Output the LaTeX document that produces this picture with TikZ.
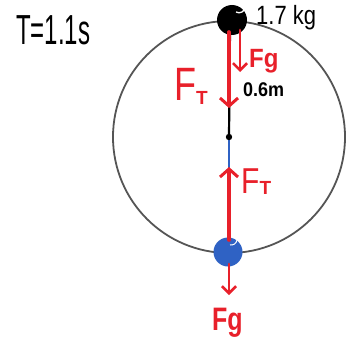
\documentclass[tikz,border=0pt]{standalone}
\usepackage{fontspec}
\setmainfont{Liberation Sans}
\usetikzlibrary{arrows.meta}
\definecolor{fred}{HTML}{E8202A}
\definecolor{fblue}{HTML}{2F62C4}
\definecolor{orbit}{HTML}{555555}
\newcommand{\tall}[2]{\scalebox{1}[#1]{#2}}
\begin{document}
\begin{tikzpicture}[x=1pt,y=-1pt,
  force/.style={fred,line width=3.6pt,line cap=round,-{Straight Barb[length=8pt,width=18pt,line width=3pt]}},
  thinforce/.style={fred,line width=2.8pt,line cap=round,-{Straight Barb[length=7pt,width=14pt,line width=2.6pt]}},
  flabel/.style={fred,inner sep=0pt},
  blabel/.style={black,inner sep=0pt}]
\useasboundingbox (0,0) rectangle (350,337);
\coordinate (c) at (229,137);
\draw[orbit,line width=1.8pt] (c) circle (116);
% strings
\draw[black,line width=2.2pt] (230,30) -- (c);
\draw[fblue,line width=1.6pt] (c) -- (229,240);
\fill (c) circle (3.2);
% top ball
\node[circle,fill=black,minimum size=30pt,inner sep=0pt] (top) at (232,20) {};
\draw[white,line width=1.3pt] (236,12) arc (120:10:6);
% bottom ball
\node[circle,fill=fblue,minimum size=29pt,inner sep=0pt] (bot) at (228,252) {};
\draw[white,line width=1pt] (230,245) arc (100:10:6);
% forces top
\coordinate (ft1) at (229,32);
\coordinate (ft1e) at (229,108);
\draw[force] (ft1) -- (ft1e);
\coordinate (fg1) at (240,30);
\coordinate (fg1e) at (240,72);
\draw[thinforce] (fg1) -- (fg1e);
\node[flabel,anchor=base west] (ftl1) at (174,100) {\tall{1.3}{\fontsize{36}{36}\selectfont F}\raisebox{-4pt}{\fontsize{19}{19}\selectfont\bfseries T}};
\node[flabel,anchor=base west] (fgl1) at (249,67) {\tall{1.1}{\fontsize{24}{24}\selectfont\bfseries Fg}};
\node[blabel,anchor=base west] (len) at (243,96) {\tall{1.1}{\fontsize{18}{18}\selectfont\bfseries 0.6m}};
\node[blabel,anchor=base west] (mass) at (256,25) {\tall{1.2}{\fontsize{22}{22}\selectfont 1.7 kg}};
% forces bottom
\coordinate (ft2) at (229,240);
\coordinate (ft2e) at (229,167);
\draw[force] (ft2) -- (ft2e);
\coordinate (fg2) at (229,264);
\coordinate (fg2e) at (229,295);
\draw[thinforce] (fg2) -- (fg2e);
\node[flabel,anchor=base west] (ftl2) at (241,193) {\tall{1.2}{\fontsize{30}{30}\selectfont F}\raisebox{-1pt}{\fontsize{19}{19}\selectfont\bfseries T}};
\node[flabel,anchor=base west] (fgl2) at (212,330) {\tall{1.3}{\fontsize{25}{25}\selectfont\bfseries Fg}};
\node[blabel,anchor=base west] (per) at (16,45) {\tall{1.75}{\fontsize{24}{24}\selectfont T=1.1s}};
\end{tikzpicture}
\end{document}
